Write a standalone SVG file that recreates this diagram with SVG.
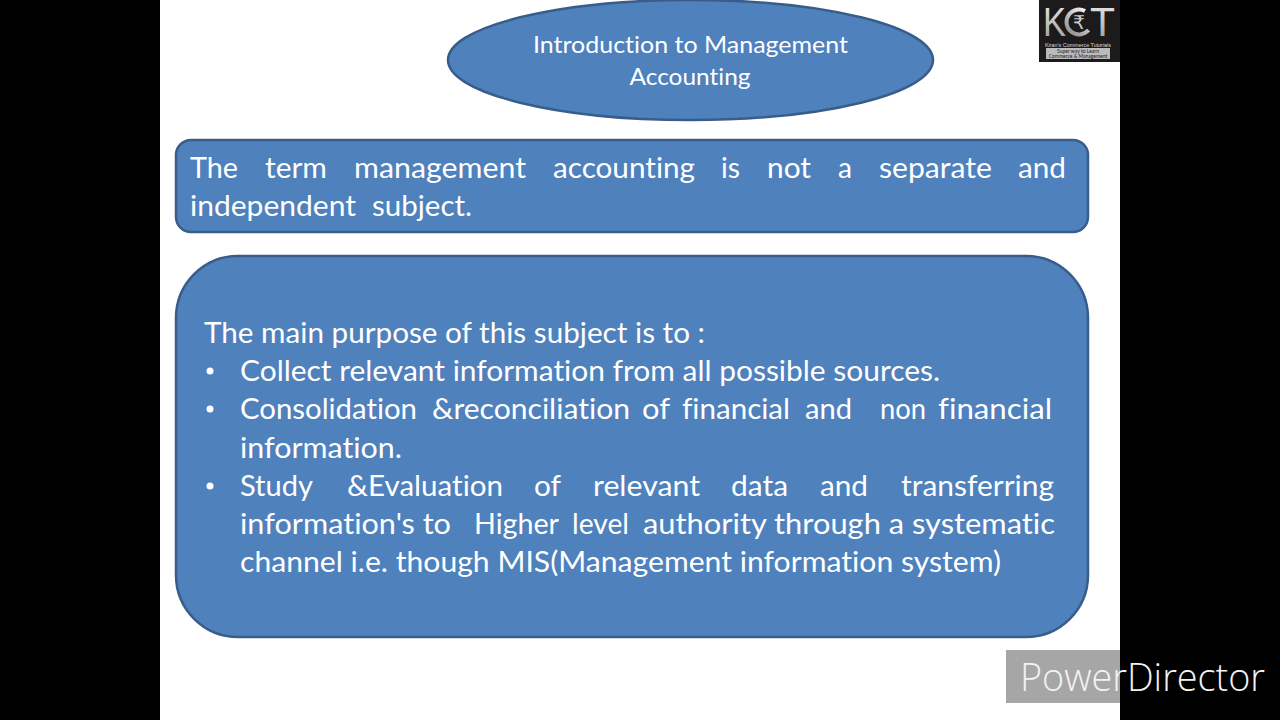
<svg xmlns="http://www.w3.org/2000/svg" width="1280" height="720" viewBox="0 0 1280 720">
<defs><style>
.s{fill:#4f81bd;stroke:#385d8a;stroke-width:2.5}
text{font-family:"Lato","Open Sans",sans-serif;fill:#fff;font-variant-ligatures:none}
.a{font-size:23.500px;text-anchor:middle}
.b{font-size:28px}
.d{fill:#fff;stroke:none}
.k{fill:#ddd;font-family:"Liberation Sans",sans-serif}
</style>
<linearGradient id="m" x1="0" y1="0" x2="0" y2="1"><stop offset="0" stop-color="#eee"/><stop offset="1" stop-color="#999"/></linearGradient>
</defs>
<rect width="1280" height="720" fill="#000"/>
<rect x="160" width="960" height="720" fill="#fff"/>
<g id="title"><ellipse class="s" cx="690.500" cy="60" rx="242.500" ry="60"/>
<text class="a" x="690.500" y="52.500" textLength="315" lengthAdjust="spacingAndGlyphs">Introduction to Management</text>
<text class="a" x="690" y="84.500" textLength="121" lengthAdjust="spacingAndGlyphs">Accounting</text></g>
<g id="definition"><rect class="s" x="176" y="140" width="912" height="92" rx="15"/>
<g class="b">
<text x="190" y="178" textLength="48" lengthAdjust="spacingAndGlyphs">The</text>
<text x="265" y="178" textLength="62" lengthAdjust="spacingAndGlyphs">term</text>
<text x="354" y="178" textLength="172" lengthAdjust="spacingAndGlyphs">management</text>
<text x="553" y="178" textLength="142" lengthAdjust="spacingAndGlyphs">accounting</text>
<text x="721" y="178" textLength="19" lengthAdjust="spacingAndGlyphs">is</text>
<text x="767" y="178" textLength="44" lengthAdjust="spacingAndGlyphs">not</text>
<text x="838" y="178" textLength="14" lengthAdjust="spacingAndGlyphs">a</text>
<text x="879" y="178" textLength="113" lengthAdjust="spacingAndGlyphs">separate</text>
<text x="1018" y="178" textLength="48" lengthAdjust="spacingAndGlyphs">and</text>
<text x="190" y="216" textLength="166" lengthAdjust="spacingAndGlyphs">independent</text>
<text x="372" y="216" textLength="100" lengthAdjust="spacingAndGlyphs">subject.</text>
</g></g>
<g id="purpose"><rect class="s" x="176" y="256" width="912" height="381" rx="62"/>
<circle class="d" cx="210" cy="371" r="3.500"/><circle class="d" cx="210" cy="409" r="3.500"/><circle class="d" cx="210" cy="486" r="3.500"/>
<g class="b">
<text x="204" y="343" textLength="501" lengthAdjust="spacingAndGlyphs">The main purpose of this subject is to :</text>
<text x="240" y="381" textLength="700" lengthAdjust="spacingAndGlyphs">Collect relevant information from all possible sources.</text>
<text x="240" y="419" textLength="177" lengthAdjust="spacingAndGlyphs">Consolidation</text>
<text x="432" y="419" textLength="198" lengthAdjust="spacingAndGlyphs">&amp;reconciliation</text>
<text x="642" y="419" textLength="28" lengthAdjust="spacingAndGlyphs">of</text>
<text x="682" y="419" textLength="108" lengthAdjust="spacingAndGlyphs">financial</text>
<text x="805" y="419" textLength="47" lengthAdjust="spacingAndGlyphs">and</text>
<text x="880" y="419" textLength="46" lengthAdjust="spacingAndGlyphs">non</text>
<text x="938" y="419" textLength="114" lengthAdjust="spacingAndGlyphs">financial</text>
<text x="240" y="458" textLength="162" lengthAdjust="spacingAndGlyphs">information.</text>
<text x="240" y="496" textLength="73" lengthAdjust="spacingAndGlyphs">Study</text>
<text x="347" y="496" textLength="156" lengthAdjust="spacingAndGlyphs">&amp;Evaluation</text>
<text x="534" y="496" textLength="27" lengthAdjust="spacingAndGlyphs">of</text>
<text x="593" y="496" textLength="107" lengthAdjust="spacingAndGlyphs">relevant</text>
<text x="731" y="496" textLength="57" lengthAdjust="spacingAndGlyphs">data</text>
<text x="820" y="496" textLength="48" lengthAdjust="spacingAndGlyphs">and</text>
<text x="901" y="496" textLength="153" lengthAdjust="spacingAndGlyphs">transferring</text>
<text x="240" y="534" textLength="211" lengthAdjust="spacingAndGlyphs">information's to</text>
<text x="474" y="534" textLength="85" lengthAdjust="spacingAndGlyphs">Higher</text>
<text x="572" y="534" textLength="57" lengthAdjust="spacingAndGlyphs">level</text>
<text x="643" y="534" textLength="412" lengthAdjust="spacingAndGlyphs">authority through a systematic</text>
<text x="240" y="572" textLength="761" lengthAdjust="spacingAndGlyphs">channel i.e. though MIS(Management information system)</text>
</g></g>
<g id="logo"><rect x="1039" y="0" width="81" height="62" fill="#1c1a1a"/>
<text x="1043" y="36" font-size="40" textLength="23" lengthAdjust="spacingAndGlyphs" style="fill:url(#m);font-family:'Liberation Sans',sans-serif">K</text>
<circle cx="1079" cy="22" r="12.500" fill="none" stroke="url(#m)" stroke-width="4" stroke-dasharray="56 22" transform="rotate(40 1079 22)"/>
<text x="1079" y="29" font-size="19" text-anchor="middle" style="fill:#ccc;font-family:'DejaVu Sans',sans-serif">₹</text>
<text x="1090" y="36" font-size="40" textLength="25" lengthAdjust="spacingAndGlyphs" style="fill:url(#m);font-family:'Liberation Sans',sans-serif">T</text>
<text class="k" x="1045" y="47" font-size="5.500" textLength="66" lengthAdjust="spacingAndGlyphs">Kiran's Commerce Tutorials</text>
<rect x="1046" y="48" width="64" height="11" fill="#bbb"/>
<text x="1078" y="53" font-size="5" text-anchor="middle" style="fill:#222">Super way to Learn</text>
<text x="1078" y="58" font-size="5" text-anchor="middle" style="fill:#222">Commerce &amp; Management</text></g>
<g id="watermark"><rect x="1006" y="650" width="114" height="53" fill="#a6a6a6"/>
<text x="1020" y="691" font-size="38" textLength="245" lengthAdjust="spacingAndGlyphs" style="font-family:'Open Sans',sans-serif;font-weight:300;fill:#f2f2f2">PowerDirector</text></g>
</svg>
